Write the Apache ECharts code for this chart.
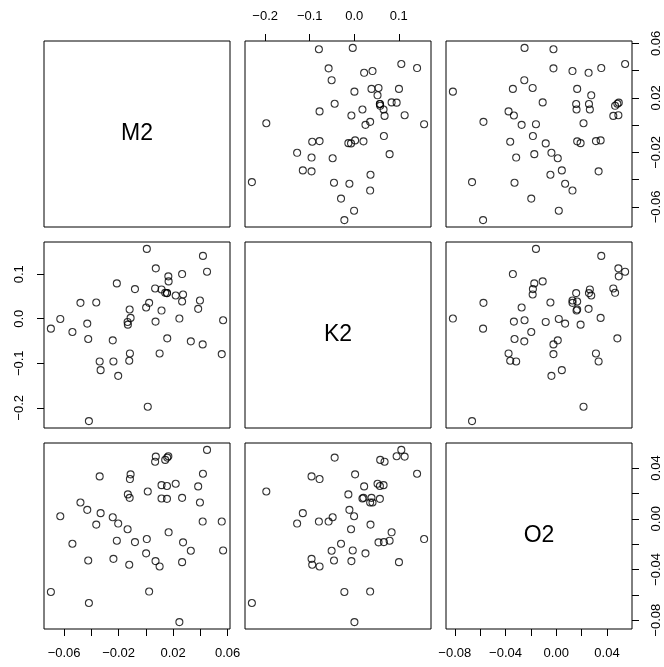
<!DOCTYPE html>
<html>
<head>
<meta charset="utf-8">
<script src="https://cdn.jsdelivr.net/npm/echarts@6/dist/echarts.min.js"></script>
<style>
  html, body { margin: 0; padding: 0; background: #fff; }
  #chart { width: 664px; height: 667px; }
</style>
</head>
<body>
<div id="chart"></div>
<script>
// variables of the pairs plot
const varNames = ['M2', 'K2', 'O2']

const m2 = [0.0007, 0.0419, 0.0073, 0.0449, 0.0165, 0.0266, 0.0167, -0.0213, -0.0080, 0.0068,
  0.0115, 0.0142, 0.0155, 0.0155, 0.0219, 0.0273, 0.0266, 0.0397, 0.0384, -0.0480,
  -0.0364, 0.0024, 0.0002, -0.0119, 0.0115, -0.0112, -0.0134, -0.0132, 0.0071, 0.0246,
  0.0567, -0.0628, -0.0697, -0.0430, -0.0539, -0.0423, -0.0243, 0.0157, 0.0330, 0.0417,
  -0.0117, 0.0101, 0.0557, -0.0339, -0.0238, -0.0122, -0.0332, -0.0203, 0.0014, -0.0418]

const k2 = [0.1569, 0.1411, 0.1132, 0.1057, 0.0952, 0.1004, 0.0839, 0.0794, 0.0666, 0.0681,
  0.0658, 0.0583, 0.0576, 0.0576, 0.0523, 0.0545, 0.0387, 0.0410, 0.0222, 0.0357,
  0.0365, 0.0357, 0.0252, 0.0207, 0.0184, 0.0019, -0.0072, -0.0132, -0.0064, 0.0004,
  -0.0034, -0.0004, -0.0222, -0.0109, -0.0297, -0.0455, -0.0485, -0.0440, -0.0508, -0.0576,
  -0.0779, -0.0779, -0.0794, -0.0959, -0.0959, -0.0944, -0.1155, -0.1283, -0.1975, -0.2299]

const o2 = [-0.0160, 0.0355, 0.0490, 0.0543, 0.0493, -0.0342, -0.0107, -0.0173, -0.0184, 0.0450,
  0.0265, 0.0464, 0.0157, 0.0258, 0.0276, -0.0186, 0.0165, 0.0128, 0.0255, 0.0128,
  -0.0046, -0.0574, -0.0273, 0.0165, 0.0160, 0.0350, -0.0083, 0.0192, -0.0334, -0.0815,
  -0.0250, 0.0020, -0.0577, 0.0070, -0.0197, -0.0329, 0.0012, 0.0482, -0.0252, -0.0022,
  0.0313, -0.0376, -0.0022, 0.0334, -0.0316, -0.0363, 0.0044, -0.0038, 0.0215, -0.0664]

// tick marks and the labelled subset (R drops overlapping labels)
const m2Ticks = [-0.06, -0.04, -0.02, 0, 0.02, 0.04, 0.06]
const m2Labels = [-0.06, -0.02, 0.02, 0.06]
const k2Ticks = [-0.2, -0.1, 0, 0.1]
const k2Labels = [-0.2, -0.1, 0, 0.1]
const o2Ticks = [-0.08, -0.06, -0.04, -0.02, 0, 0.02, 0.04]
const o2Labels = [-0.08, -0.04, 0, 0.04]

const values = [m2, k2, o2]
const ticks = [m2Ticks, k2Ticks, o2Ticks]
const labels = [m2Labels, k2Labels, o2Labels]
const decimals = [2, 1, 2]

// panel layout (px)
const panelLeft = [44, 245, 446]
const panelTop = [41, 242, 443]
const panelSize = 186

const font = '"Liberation Sans", Arial, Helvetica, sans-serif'

// range like R: data range extended by 4% each side
function range (arr) {
  let lo = Math.min.apply(null, arr)
  let hi = Math.max.apply(null, arr)
  let pad = (hi - lo) * 0.04
  return [lo - pad, hi + pad]
}
const ranges = values.map(range)

function fmt (d) {
  return function (v) {
    let s = (Math.round(v * Math.pow(10, d)) / Math.pow(10, d)).toFixed(d)
    if (s.charAt(0) === '-') s = '\u2212' + s.slice(1)
    if (s === '\u22120.00' || s === '\u22120.0') s = s.slice(1)
    return s
  }
}

// axis with ticks only where the pairs plot draws them
function makeAxis (dim, gridIndex, v, position, showTicks) {
  let ax = {
    type: 'value',
    gridIndex: gridIndex,
    position: position,
    min: ranges[v][0],
    max: ranges[v][1],
    axisLine: { show: false, onZero: false },
    splitLine: { show: false },
    axisTick: { show: false },
    axisLabel: { show: false }
  }
  if (showTicks) {
    ax.axisTick = {
      show: true,
      length: 7,
      lineStyle: { color: '#000', width: 1 },
      customValues: ticks[v]
    }
    ax.axisLabel = {
      show: true,
      customValues: labels[v],
      margin: 18,
      color: '#000',
      fontSize: 13,
      fontFamily: font,
      rotate: dim === 'y' ? 90 : 0,
      formatter: fmt(decimals[v])
    }
  }
  return ax
}

const grid = []
const xAxis = []
const yAxis = []
const series = []
const graphic = []

for (let r = 0; r < 3; r++) {
  for (let c = 0; c < 3; c++) {
    let gi = grid.length
    grid.push({
      left: panelLeft[c],
      top: panelTop[r],
      width: panelSize,
      height: panelSize,
      show: true,
      borderColor: '#000',
      borderWidth: 1,
      backgroundColor: 'transparent'
    })
    // x axis: bottom for columns 1 and 3 on the last row, top for column 2 on the first row
    let xPos = 'bottom'
    let xTicks = false
    if (r === 2 && c % 2 === 0) xTicks = true
    if (r === 0 && c % 2 === 1) { xPos = 'top'; xTicks = true }
    // y axis: right for rows 1 and 3 on the last column, left for row 2 on the first column
    let yPos = 'left'
    let yTicks = false
    if (c === 2 && r % 2 === 0) { yPos = 'right'; yTicks = true }
    if (c === 0 && r % 2 === 1) yTicks = true
    xAxis.push(makeAxis('x', gi, c, xPos, xTicks))
    yAxis.push(makeAxis('y', gi, r, yPos, yTicks))

    if (r === c) {
      graphic.push({
        type: 'text',
        x: panelLeft[c] + panelSize / 2,
        y: panelTop[r] + panelSize / 2,
        style: {
          text: varNames[r],
          fontSize: 23,
          fontFamily: font,
          fill: '#000',
          align: 'center',
          verticalAlign: 'middle'
        }
      })
    } else {
      let xs = values[c]
      let ys = values[r]
      series.push({
        type: 'scatter',
        xAxisIndex: gi,
        yAxisIndex: gi,
        symbol: 'circle',
        symbolSize: 7,
        itemStyle: { color: 'rgba(0,0,0,0)', borderColor: '#000', borderWidth: 1.1 },
        emphasis: { disabled: true },
        data: xs.map((v, i) => [v, ys[i]])
      })
    }
  }
}

const myChart = echarts.init(document.getElementById('chart'), null, { renderer: 'canvas' })
myChart.setOption({
  backgroundColor: '#fff',
  animation: false,
  grid: grid,
  xAxis: xAxis,
  yAxis: yAxis,
  series: series,
  graphic: graphic
})
</script>
</body>
</html>
